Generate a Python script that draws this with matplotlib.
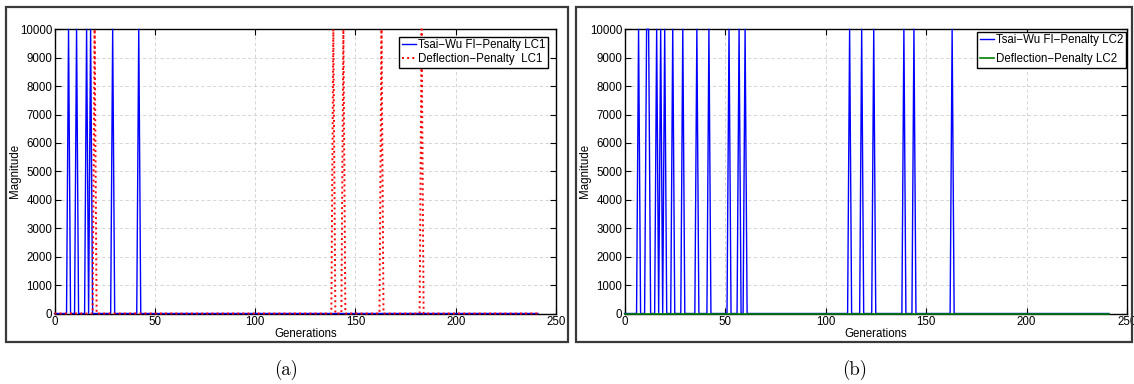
import numpy as np
import matplotlib
matplotlib.use("Agg")
import matplotlib.pyplot as plt
from matplotlib.patches import Rectangle

# ---- data ----
generations = np.arange(0, 242)
peak_value = 10000
tsaiwu_lc1_peaks = [7, 11, 16, 18, 29, 42]
deflection_lc1_peaks = [20, 139, 144, 163, 183]
tsaiwu_lc2_peaks = [7, 11, 12, 16, 18, 20, 24, 29, 36, 42, 52, 57, 60,
                    112, 118, 124, 139, 144, 163]
deflection_lc2_peaks = []

x_ticks = [0, 50, 100, 150, 200, 250]
y_ticks = list(range(0, 10001, 1000))
captions = ["(a)", "(b)"]


def series(peaks):
    v = np.zeros(len(generations))
    for p in peaks:
        v[generations == p] = peak_value
    return v


plt.rcParams['font.family'] = ['Liberation Sans', 'DejaVu Sans']

W, H = 1134, 384
fig = plt.figure(figsize=(W / 100, H / 100), dpi=100)


def ax_rect(x0, x1, y0, y1):
    return [x0 / W, 1 - y1 / H, (x1 - x0) / W, (y1 - y0) / H]


panels = [
    dict(rect=ax_rect(54.5, 556, 29.3, 313.5),
         frame=(6, 7, 568, 342), cap_x=286,
         s1=series(tsaiwu_lc1_peaks), s2=series(deflection_lc1_peaks),
         l1="Tsai\u2212Wu FI\u2212Penalty LC1", l2="Deflection\u2212Penalty  LC1",
         c2="red", ls2=":", leg_anchor=(548, 36.5), labelspacing=0.15),
    dict(rect=ax_rect(624.5, 1127, 29.3, 313.5),
         frame=(576, 7, 1132, 342), cap_x=855,
         s1=series(tsaiwu_lc2_peaks), s2=series(deflection_lc2_peaks),
         l1="Tsai\u2212Wu FI\u2212Penalty LC2", l2="Deflection\u2212Penalty LC2",
         c2="#008000", ls2="-", leg_anchor=(1126, 31.5), labelspacing=0.6),
]

for i, p in enumerate(panels):
    x0, y0, x1, y1 = p["frame"]
    fig.patches.append(Rectangle((x0 / W, 1 - y1 / H), (x1 - x0) / W, (y1 - y0) / H,
                                 transform=fig.transFigure, fill=False,
                                 edgecolor="#3a3a3a", linewidth=1.6, zorder=0))
    ax = fig.add_axes(p["rect"])
    ax.plot(generations, p["s1"], color="blue", lw=1.0, label=p["l1"],
            zorder=3, clip_on=False)
    ax.plot(generations, p["s2"], color=p["c2"], lw=1.4 if p["ls2"] == ":" else 1.2,
            ls=p["ls2"], label=p["l2"], zorder=3.1, clip_on=False)
    ax.set_xlim(0, 250)
    ax.set_ylim(0, 10000)
    ax.set_xticks(x_ticks)
    ax.set_yticks(y_ticks)
    ax.tick_params(direction="in", top=True, right=True, length=4, width=0.8,
                   labelsize=8.3, pad=1.5)
    ax.grid(True, color="#cfcfcf", linestyle=(0, (4, 3)), linewidth=0.6)
    for sp in ax.spines.values():
        sp.set_linewidth(1.0)
    ax.set_xlabel("Generations", fontsize=8.3, labelpad=0)
    ax.set_ylabel("Magnitude", fontsize=8.3, labelpad=-1)
    bx, by = p["leg_anchor"]
    leg = ax.legend(loc="upper right", bbox_to_anchor=(bx / W, 1 - by / H),
                    bbox_transform=fig.transFigure, fontsize=8.3, fancybox=False,
                    framealpha=1, edgecolor="black", borderaxespad=0,
                    handlelength=1.25, handletextpad=0.15, borderpad=0.25,
                    labelspacing=p["labelspacing"])
    leg.get_frame().set_linewidth(1.0)
    leg.set_zorder(5)
    fig.text(p["cap_x"] / W, 1 - 370 / H, captions[i], fontfamily="cmr10",
             fontsize=13.5, ha="center", va="center")

fig.savefig("out.png", dpi=100)
